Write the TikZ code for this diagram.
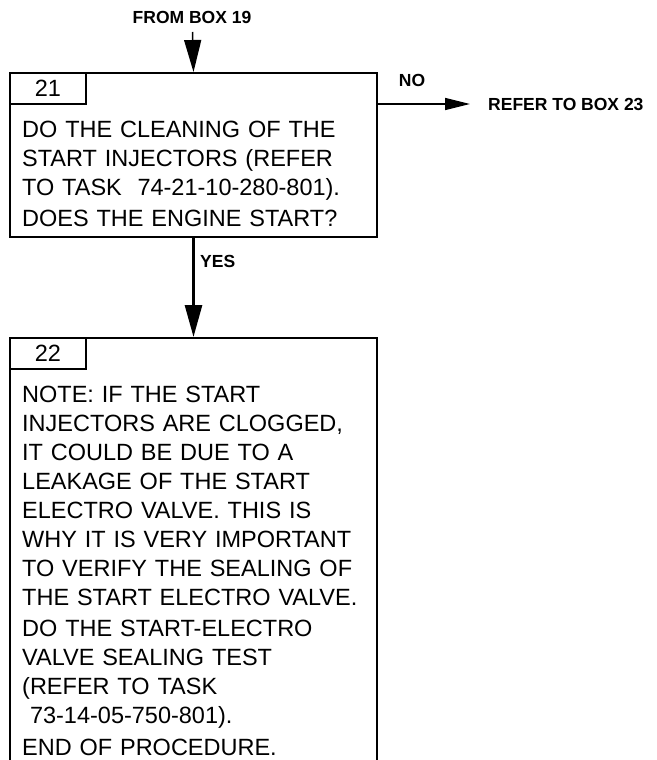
\documentclass[tikz,border=0pt]{standalone}
\usepackage{fontspec}
\setmainfont{Liberation Sans}
\usetikzlibrary{arrows.meta}

\tikzset{
  frame/.style={draw, line width=2pt, inner sep=0pt, anchor=north west},
  tab/.style={draw, line width=2pt, minimum width=76pt, minimum height=31pt,
    inner sep=0pt, anchor=north west, font=\fontsize{23.5}{28}\selectfont},
  body/.style={anchor=base west, inner sep=0pt, align=left, text width=350pt,
    font=\fontsize{23.5}{29}\selectfont},
  lbl/.style={font=\bfseries\fontsize{17.5}{20}\selectfont, inner sep=0pt},
  flow/.style={-{Triangle[length=32pt,width=17pt]}},
}

\begin{document}
\begin{tikzpicture}[x=1pt,y=-1pt]
  \useasboundingbox (0,0) rectangle (656,760);

  % box 21
  \node[frame, minimum width=367pt, minimum height=164pt] (box21) at (9,72) {};
  \node[tab] (tab21) at (9,72) {21};
  \node[body] (txt21) at (22,137) {DO THE CLEANING OF THE\\
    START INJECTORS (REFER\\
    TO TASK\ \ 74-21-10-280-801).\\[2.5pt]
    DOES THE ENGINE START?};

  % box 22 (runs off the bottom)
  \node[frame, minimum width=367pt, minimum height=440pt] (box22) at (9,337) {};
  \node[tab] (tab22) at (9,337) {22};
  \node[body] (txt22) at (22,402) {NOTE: IF THE START\\
    INJECTORS ARE CLOGGED,\\
    IT COULD BE DUE TO A\\
    LEAKAGE OF THE START\\
    ELECTRO VALVE. THIS IS\\
    WHY IT IS VERY IMPORTANT\\
    TO VERIFY THE SEALING OF\\
    THE START ELECTRO VALVE.\\[2.5pt]
    DO THE START-ELECTRO\\
    VALVE SEALING TEST\\
    (REFER TO TASK\\
    \ 73-14-05-750-801).\\[2.5pt]
    END OF PROCEDURE.};

  % labels
  \node[lbl] (from19) at (192,17) {FROM BOX 19};
  \coordinate (in21) at (192.5,32);
  \node[lbl] (no) at (412,80) {NO};
  \node[lbl, anchor=west] (refer23) at (488,104) {REFER TO BOX 23};
  \node[lbl, anchor=west] (yes) at (200,261) {YES};

  % arrows
  \draw[flow, line width=1.5pt] (in21) -- (box21.north);
  \draw[-{Triangle[length=25pt,width=12pt]}, line width=1.5pt]
    (box21.east |- refer23.west) -- ([xshift=-18pt]refer23.west);
  \draw[flow, line width=2.8pt] (box21.south) -- (box22.north);
\end{tikzpicture}
\end{document}
